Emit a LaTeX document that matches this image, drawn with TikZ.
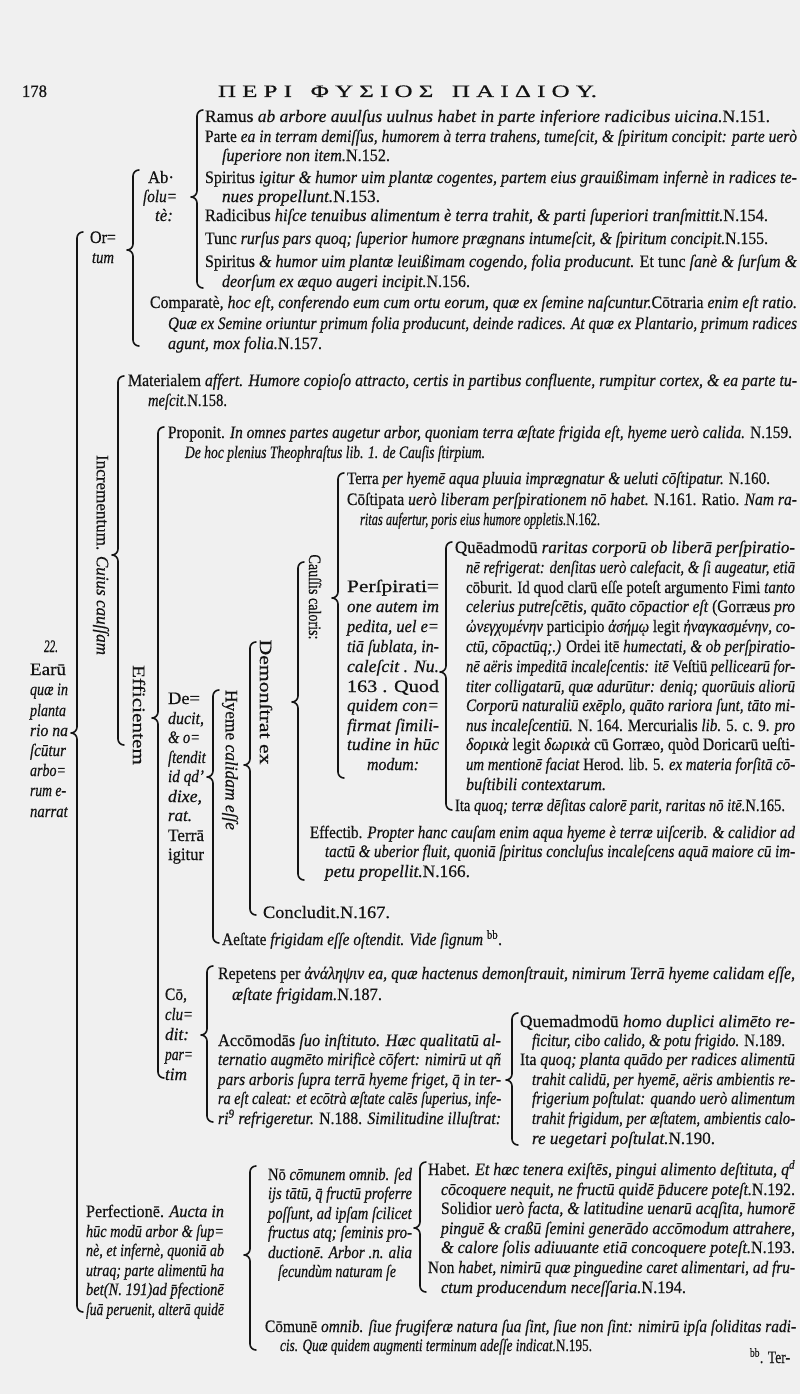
\documentclass[tikz,border=0pt]{standalone}
\usepackage{fontspec}
\setmainfont{Liberation Serif}[UprightFeatures={FakeBold=0.5},ItalicFeatures={FakeBold=0.5}]
\usepackage{graphicx}
\definecolor{ink}{gray}{0.08}
\definecolor{paper}{gray}{0.94}
\newcounter{tn}
\tikzset{
  txt/.style={anchor=base west,inner sep=0pt,outer sep=0pt,text=ink,font=\fontsize{17.5}{20}\selectfont},
  rtxt/.style={rotate=-90,anchor=center,inner sep=0pt,outer sep=0pt,text=ink,font=\fontsize{17.5}{20}\selectfont},
  brk/.style={draw=ink,line width=1.6pt,line cap=round,line join=round}
}
% x, y (line centre), width, text
\newcommand\Tx[4]{\stepcounter{tn}\node[txt] (t\arabic{tn}) at (#1,#2+5) {\resizebox{#3pt}{\height}{#4}};}
% rotated text: x, y centre, length, text
\newcommand\Rt[4]{\stepcounter{tn}\node[rtxt] (t\arabic{tn}) at (#1,#2) {\resizebox{#3pt}{\height}{#4}};}
% brace: x, top, bottom, tip
\newcommand\Br[4]{\draw[brk] (#1+6,#2) to[out=180,in=90] (#1,#2+6) -- (#1,#4-6) to[out=-90,in=0] (#1-6,#4) to[out=0,in=90] (#1,#4+6) -- (#1,#3-6) to[out=-90,in=180] (#1+6,#3);}
\newcommand\ii[1]{\textit{#1}}
\begin{document}
\begin{tikzpicture}[x=1pt,y=-1pt]
\fill[paper] (0,0) rectangle (800,1394);
\useasboundingbox (0,0) rectangle (800,1394);
% header
\Tx{22}{92}{25}{178}
\Tx{218}{92}{379}{Π Ε Ρ Ι \ \ Φ Υ Σ Ι Ο Σ \ \ Π Α Ι Δ Ι Ο Υ.}
% Ortum / Absolute
\Tx{205}{117}{565}{Ramus \ii{ab arbore auulſus uulnus habet in parte inferiore radicibus uicina.}N.151.}
\Tx{205}{137}{592}{Parte \ii{ea in terram demiſſus, humorem à terra trahens, tumeſcit, \& ſpiritum concipit: parte uerò}}
\Tx{222}{156}{168}{\ii{ſuperiore non item.}N.152.}
\Tx{205}{178}{592}{Spiritus \ii{igitur \& humor uim plantæ cogentes, partem eius grauißimam infernè in radices te-}}
\Tx{222}{197}{158}{\ii{nues propellunt.}N.153.}
\Tx{205}{216}{563}{Radicibus \ii{hiſce tenuibus alimentum è terra trahit, \& parti ſuperiori tranſmittit.}N.154.}
\Tx{205}{239}{563}{Tunc \ii{rurſus pars quoq; ſuperior humore prægnans intumeſcit, \& ſpiritum concipit.}N.155.}
\Tx{205}{262}{592}{Spiritus \ii{\& humor uim plantæ leuißimam cogendo, folia producunt.} Et tunc \ii{ſanè \& ſurſum \&}}
\Tx{222}{282}{248}{\ii{deorſum ex æquo augeri incipit.}N.156.}
\Tx{150}{303}{647}{Comparatè, \ii{hoc eſt, conferendo eum cum ortu eorum, quæ ex ſemine naſcuntur.}Cōtraria \ii{enim eſt ratio.}}
\Tx{168}{324}{629}{\ii{Quæ ex Semine oriuntur primum folia producunt, deinde radices. At quæ ex Plantario, primum radices}}
\Tx{168}{344}{154}{\ii{agunt, mox folia.}N.157.}
\Tx{90}{238}{26}{Or=}
\Tx{92}{258}{22}{\ii{tum}}
\Tx{148}{178}{26}{Ab·}
\Tx{143}{197}{34}{\ii{ſolu=}}
\Tx{155}{216}{18}{\ii{tè:}}
% Incrementum
\Tx{128}{381}{669}{Materialem \ii{affert. Humore copioſo attracto, certis in partibus confluente, rumpitur cortex, \& ea parte tu-}}
\Tx{148}{401}{79}{\ii{meſcit.}N.158.}
\Tx{168}{433}{624}{Proponit. \ii{In omnes partes augetur arbor, quoniam terra æſtate frigida eſt, hyeme uerò calida.} N.159.}
\Tx{185}{453}{300}{\ii{De hoc plenius Theophraſtus lib. 1. de Cauſis ſtirpium.}}
\Tx{347}{479}{423}{Terra \ii{per hyemē aqua pluuia imprægnatur \& ueluti cōſtipatur.} N.160.}
\Tx{347}{500}{450}{Cōſtipata \ii{uerò liberam perſpirationem nō habet.} N.161. Ratio. \ii{Nam ra-}}
\Tx{360}{520}{240}{\ii{ritas aufertur, poris eius humore oppletis.}N.162.}
% Perspiratione block
\Tx{347}{587}{92}{Perſpirati=}
\Tx{347}{607}{92}{\ii{one autem im}}
\Tx{347}{627}{92}{\ii{pedita, uel e=}}
\Tx{347}{647}{92}{\ii{tiā ſublata, in-}}
\Tx{347}{667}{92}{\ii{caleſcit . Nu.}}
\Tx{347}{687}{92}{163 . Quod}
\Tx{347}{706}{92}{\ii{quidem con=}}
\Tx{347}{726}{92}{\ii{firmat ſimili-}}
\Tx{347}{745}{92}{\ii{tudine in hūc}}
\Tx{367}{765}{52}{\ii{modum:}}
% Queadmodum block
\Tx{455}{548}{340}{Quēadmodū \ii{raritas corporū ob liberā perſpiratio-}}
\Tx{466}{568}{329}{\ii{nē refrigerat: denſitas uerò calefacit, \& ſi augeatur, etiā}}
\Tx{466}{588}{329}{cōburit. Id quod clarū eſſe poteſt argumento Fimi \ii{tanto}}
\Tx{466}{607}{329}{\ii{celerius putreſcētis, quāto cōpactior eſt} (Gorræus \ii{pro}}
\Tx{466}{627}{329}{\ii{ὠνεγχυμένην} participio \ii{ἀσήμῳ} legit \ii{ἠναγκασμένην, co-}}
\Tx{466}{647}{329}{\ii{ctū, cōpactūq;.)} Ordei itē \ii{humectati, \& ob perſpiratio-}}
\Tx{466}{667}{329}{\ii{nē aëris impeditā incaleſcentis: itē} Veſtiū \ii{pellicearū for-}}
\Tx{466}{687}{329}{\ii{titer colligatarū, quæ adurūtur: deniq; quorūuis aliorū}}
\Tx{466}{706}{329}{\ii{Corporū naturaliū exēplo, quāto rariora ſunt, tāto mi-}}
\Tx{466}{726}{329}{\ii{nus incaleſcentiū.} N. 164. Mercurialis \ii{lib.} 5. c. 9. \ii{pro}}
\Tx{466}{745}{329}{\ii{δορικὰ} legit \ii{δωρικὰ} cū Gorræo, quòd Doricarū ueſti-}
\Tx{466}{765}{329}{\ii{um mentionē faciat} Herod. lib. 5. \ii{ex materia forſitā cō-}}
\Tx{466}{785}{140}{\ii{buſtibili contextarum.}}
\Tx{455}{806}{330}{Ita \ii{quoq; terræ dēſitas calorē parit, raritas nō itē.}N.165.}
% Effectib
\Tx{310}{833}{485}{Effectib. \ii{Propter hanc cauſam enim aqua hyeme è terræ uiſcerib. \& calidior ad}}
\Tx{325}{852}{470}{\ii{tactū \& uberior fluit, quoniā ſpiritus concluſus incaleſcens aquā maiore cū im-}}
\Tx{325}{872}{145}{\ii{petu propellit.}N.166.}
\Tx{263}{913}{127}{Concludit.N.167.}
\Tx{222}{940}{280}{Aeſtate \ii{frigidam eſſe oſtendit. Vide ſignum} \textsuperscript{bb}.}
% vertical labels
\Rt{101}{555}{200}{Incrementum. \ii{Cuius cauſſam}}
\Rt{139}{715}{100}{Efficientem}
\Rt{230}{760}{140}{Hyeme \ii{calidam eſſe}}
\Rt{266}{702}{125}{Demonſtrat ex}
\Rt{315}{597}{85}{Cauſſis caloris:}
% Deducit labels
\Tx{168}{699}{32}{De=}
\Tx{168}{719}{36}{\ii{ducit,}}
\Tx{168}{738}{32}{\ii{\& o=}}
\Tx{168}{758}{38}{\ii{ſtendit}}
\Tx{168}{777}{36}{\ii{id qd’}}
\Tx{168}{797}{34}{\ii{dixe,}}
\Tx{168}{816}{24}{\ii{rat.}}
\Tx{168}{836}{36}{Terrā}
\Tx{168}{855}{36}{igitur}
% Earu labels
\Tx{44}{647}{14}{\ii{22.}}
\Tx{30}{670}{36}{Earū}
\Tx{30}{690}{38}{\ii{quæ in}}
\Tx{30}{711}{36}{\ii{planta}}
\Tx{30}{731}{38}{\ii{rio na}}
\Tx{30}{751}{36}{\ii{ſcūtur}}
\Tx{30}{771}{36}{\ii{arbo=}}
\Tx{30}{791}{36}{\ii{rum e-}}
\Tx{30}{812}{38}{\ii{narrat}}
% Concludit partim
\Tx{218}{974}{577}{Repetens per \ii{ἀνάληψιν ea, quæ hactenus demonſtrauit, nimirum Terrā hyeme calidam eſſe,}}
\Tx{232}{995}{150}{\ii{æſtate frigidam.}N.187.}
\Tx{165}{995}{22}{Cō,}
\Tx{165}{1015}{28}{\ii{clu=}}
\Tx{165}{1035}{24}{\ii{dit:}}
\Tx{165}{1055}{28}{\ii{par=}}
\Tx{165}{1075}{22}{\ii{tim}}
\Tx{218}{1041}{283}{Accōmodās \ii{ſuo inſtituto. Hæc qualitatū al-}}
\Tx{218}{1060}{283}{\ii{ternatio augmēto mirificè cōfert: nimirū ut qñ}}
\Tx{218}{1080}{283}{\ii{pars arboris ſupra terrā hyeme friget, q̄ in ter-}}
\Tx{218}{1099}{283}{\ii{ra eſt caleat: et ecōtrà æſtate calēs ſuperius, infe-}}
\Tx{218}{1119}{283}{\ii{ri\textsuperscript{9} refrigeretur.} N.188. \ii{Similitudine illuſtrat:}}
\Tx{520}{1022}{275}{Quemadmodū \ii{homo duplici alimēto re-}}
\Tx{532}{1041}{253}{\ii{ficitur, cibo calido, \& potu frigido.} N.189.}
\Tx{520}{1060}{275}{Ita \ii{quoq; planta quādo per radices alimentū}}
\Tx{532}{1080}{263}{\ii{trahit calidū, per hyemē, aëris ambientis re-}}
\Tx{532}{1099}{263}{\ii{frigerium poſtulat: quando uerò alimentum}}
\Tx{532}{1119}{263}{\ii{trahit frigidum, per æſtatem, ambientis calo-}}
\Tx{532}{1139}{183}{\ii{re uegetari poſtulat.}N.190.}
% Perfectione
\Tx{86}{1212}{138}{Perfectionē. \ii{Aucta in}}
\Tx{86}{1232}{138}{\ii{hūc modū arbor \& ſup=}}
\Tx{86}{1251}{138}{\ii{nè, et infernè, quoniā ab}}
\Tx{86}{1271}{138}{\ii{utraq; parte alimentū ha}}
\Tx{86}{1290}{138}{\ii{bet(N. 191)ad p̄fectionē}}
\Tx{86}{1310}{138}{\ii{ſuā peruenit, alterā quidē}}
\Tx{268}{1175}{144}{Nō \ii{cōmunem omnib. ſed}}
\Tx{268}{1194}{144}{\ii{ijs tātū, q̄ fructū proferre}}
\Tx{268}{1214}{144}{\ii{poſſunt, ad ipſam ſcilicet}}
\Tx{268}{1233}{144}{\ii{fructus atq; ſeminis pro-}}
\Tx{268}{1253}{144}{\ii{ductionē. Arbor .n. alia}}
\Tx{278}{1272}{118}{\ii{ſecundùm naturam ſe}}
\Tx{428}{1170}{367}{Habet. \ii{Et hæc tenera exiſtēs, pingui alimento deſtituta, q\textsuperscript{d}}}
\Tx{441}{1190}{354}{\ii{cōcoquere nequit, ne fructū quidē p̄ducere poteſt.}N.192.}
\Tx{441}{1209}{354}{Solidior \ii{uerò facta, \& latitudine uenarū acqſita, humorē}}
\Tx{441}{1229}{354}{\ii{pinguē \& craßū ſemini generādo accōmodum attrahere,}}
\Tx{441}{1248}{354}{\ii{\& calore ſolis adiuuante etiā concoquere poteſt.}N.193.}
\Tx{428}{1268}{367}{Non \ii{habet, nimirū quæ pinguedine caret alimentari, ad fru-}}
\Tx{441}{1288}{245}{\ii{ctum producendum neceſſaria.}N.194.}
\Tx{265}{1327}{531}{Cōmunē \ii{omnib. ſiue frugiferæ natura ſua ſint, ſiue non ſint: nimirū ipſa ſoliditas radi-}}
\Tx{280}{1346}{312}{\ii{cis. Quæ quidem augmenti terminum adeſſe indicat.}N.195.}
\Tx{750}{1358}{40}{\textsuperscript{bb}. Ter-}
% brackets: x, top, bottom, tip
\Br{77}{232}{1312}{733}   % main
\Br{133}{170}{346}{250}   % Ortum
\Br{197}{110}{288}{197}   % Absolute
\Br{118}{376}{745}{555}   % Incrementum
\Br{158}{427}{1078}{718}  % Efficientem
\Br{213}{690}{943}{777}   % Deducit
\Br{250}{642}{915}{765}   % Hyeme
\Br{298}{562}{880}{702}   % Demonstrat
\Br{338}{473}{778}{598}   % Caussis
\Br{446}{542}{810}{672}   % Queadmodum
\Br{207}{966}{1122}{1035} % Concludit partim
\Br{512}{1013}{1145}{1080}% Similitudo
\Br{250}{1166}{1350}{1255}% Perfectione
\Br{420}{1162}{1292}{1228}% Non communem
\end{tikzpicture}
\end{document}
